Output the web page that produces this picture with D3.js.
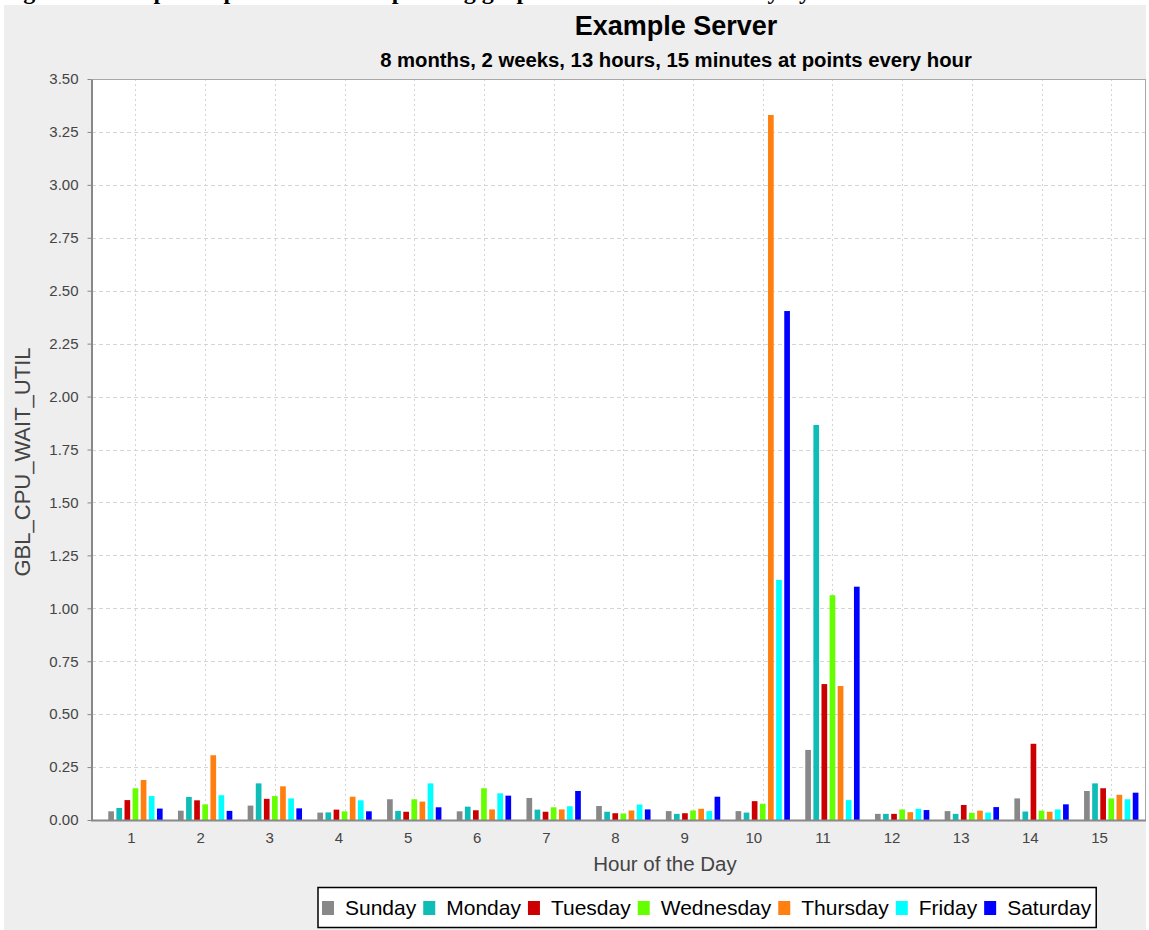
<!DOCTYPE html>
<html>
<head>
<meta charset="utf-8">
<script src="https://cdn.jsdelivr.net/npm/d3@7"></script>
<style>
  html, body { margin: 0; padding: 0; background: #ffffff; }
  svg { display: block; font-family: "Liberation Sans", Arial, sans-serif; }
</style>
</head>
<body>
<div id="chart"></div>
<script>
// Data ////////////////////////////////////////////////////////
const hours = ['1', '2', '3', '4', '5', '6', '7', '8', '9', '10', '11', '12', '13', '14', '15'];
const days = ['Sunday', 'Monday', 'Tuesday', 'Wednesday', 'Thursday', 'Friday', 'Saturday'];
const dayColors = ['#888888', '#10bdb6', '#cc0000', '#66ff00', '#ff8010', '#00ffff', '#0000ff'];

const sunday    = [0.041, 0.044, 0.068, 0.035, 0.098, 0.041, 0.104, 0.066, 0.042, 0.042, 0.331, 0.029, 0.042, 0.102, 0.137];
const monday    = [0.057, 0.109, 0.173, 0.036, 0.043, 0.063, 0.049, 0.039, 0.029, 0.035, 1.866, 0.029, 0.029, 0.040, 0.173];
const tuesday   = [0.094, 0.093, 0.100, 0.049, 0.039, 0.046, 0.039, 0.032, 0.032, 0.089, 0.642, 0.029, 0.071, 0.360, 0.150];
const wednesday = [0.150, 0.074, 0.113, 0.041, 0.098, 0.150, 0.060, 0.031, 0.045, 0.077, 1.062, 0.050, 0.034, 0.044, 0.102];
const thursday  = [0.189, 0.306, 0.159, 0.110, 0.087, 0.050, 0.050, 0.045, 0.053, 3.330, 0.633, 0.037, 0.044, 0.039, 0.119];
const friday    = [0.113, 0.117, 0.102, 0.093, 0.173, 0.126, 0.065, 0.073, 0.042, 1.134, 0.094, 0.053, 0.035, 0.050, 0.098];
const saturday  = [0.054, 0.043, 0.055, 0.041, 0.060, 0.115, 0.137, 0.050, 0.110, 2.404, 1.102, 0.047, 0.061, 0.074, 0.129];

const yTicks = [0, 0.25, 0.5, 0.75, 1, 1.25, 1.5, 1.75, 2, 2.25, 2.5, 2.75, 3, 3.25, 3.5];

const title = 'Example Server';
const subtitle = '8 months, 2 weeks, 13 hours, 15 minutes at points every hour';
const xTitle = 'Hour of the Day';
const yTitle = 'GBL_CPU_WAIT_UTIL';

// Layout ///////////////////////////////////////////////////////////////////////
const width = 1149, height = 930;
const plot = { left: 92, right: 1146, top: 79, bottom: 820 };

const series = [sunday, monday, tuesday, wednesday, thursday, friday, saturday];
const rows = [];
hours.forEach((h, i) => days.forEach((d, j) => rows.push({ hour: h, day: d, value: series[j][i] })));

const svg = d3.select('#chart').append('svg')
  .attr('width', width)
  .attr('height', height)
  .attr('viewBox', [0, 0, width, height]);

// cut-off caption line of the page above the chart
svg.append('text')
  .attr('x', 2).attr('y', -1)
  .attr('font-family', '"Liberation Serif", serif')
  .attr('font-weight', 'bold')
  .attr('font-size', 24)
  .attr('fill', '#000')
  .text('Figure 4 Example output of the corresponding graph for the hour of the day by');

svg.append('rect')
  .attr('x', 4).attr('y', 5)
  .attr('width', 1142).attr('height', height - 5)
  .attr('fill', '#eeeeee');

// Scales /////////////////////////////////////////////////////////////////////
const x0 = d3.scaleBand().domain(hours).range([100.6, 1146.1]).paddingInner(0.22).paddingOuter(0.11);
const x1 = d3.scaleBand().domain(days).range([0, x0.bandwidth()]).paddingInner(0.3);
const xLabel = d3.scalePoint().domain(hours).range([131, 1099]);
const y = d3.scaleLinear().domain([0, 3.5]).range([plot.bottom, plot.top]);
const color = d3.scaleOrdinal().domain(days).range(dayColors);

svg.append('rect')
  .attr('x', plot.left).attr('y', plot.top)
  .attr('width', plot.right - plot.left).attr('height', plot.bottom - plot.top)
  .attr('fill', '#ffffff');

// Gridlines ////////////////////////////////////////////////////////////////////
const grid = svg.append('g').attr('id', 'grid').attr('stroke', '#d4d4d4').attr('stroke-width', 1);

grid.selectAll('line.h')
  .data(yTicks.slice(1))
  .join('line')
  .attr('class', 'h')
  .attr('x1', plot.left).attr('x2', plot.right)
  .attr('y1', d => Math.round(y(d)) + 0.5).attr('y2', d => Math.round(y(d)) + 0.5)
  .attr('stroke-dasharray', '4,3');

grid.selectAll('line.v')
  .data(hours)
  .join('line')
  .attr('class', 'v')
  .attr('x1', d => Math.round(x0(d) + x0.bandwidth() / 2) + 0.5)
  .attr('x2', d => Math.round(x0(d) + x0.bandwidth() / 2) + 0.5)
  .attr('y1', plot.top).attr('y2', plot.bottom)
  .attr('stroke-dasharray', '2,3');

// Bars ///////////////////////////////////////////////////////////////////////
svg.append('g').attr('id', 'bars')
  .selectAll('rect')
  .data(rows)
  .join('rect')
  .attr('x', d => x0(d.hour) + x1(d.day))
  .attr('y', d => y(d.value))
  .attr('width', x1.bandwidth())
  .attr('height', d => y(0) - y(d.value))
  .attr('fill', d => color(d.day));

// Plot outline and axes //////////////////////////////////////////////////////
svg.append('rect')
  .attr('x', plot.left + 0.5).attr('y', plot.top + 0.5)
  .attr('width', plot.right - plot.left - 1).attr('height', plot.bottom - plot.top)
  .attr('fill', 'none')
  .attr('stroke', '#a8a8a8');

const yAxis = svg.append('g')
  .attr('transform', `translate(${plot.left - 0.5},0)`)
  .call(d3.axisLeft(y).tickValues(yTicks).tickFormat(d3.format('.2f')).tickSizeInner(4).tickSizeOuter(0).tickPadding(9));
yAxis.select('.domain').attr('stroke', '#888888').attr('stroke-width', 2);
yAxis.selectAll('.tick line').attr('stroke', '#888888');
yAxis.selectAll('.tick text').attr('fill', '#444444').attr('font-size', 15).attr('font-family', '"Liberation Sans", Arial, sans-serif');

const xAxis = svg.append('g')
  .attr('transform', `translate(0,${plot.bottom})`)
  .call(d3.axisBottom(xLabel).tickSize(0).tickPadding(12));
xAxis.select('.domain').remove();
xAxis.selectAll('.tick text').attr('fill', '#444444').attr('font-size', 15).attr('font-family', '"Liberation Sans", Arial, sans-serif');

svg.append('line')
  .attr('x1', plot.left - 1).attr('x2', plot.right)
  .attr('y1', plot.bottom + 0.5).attr('y2', plot.bottom + 0.5)
  .attr('stroke', '#888888').attr('stroke-width', 2);

// Titles /////////////////////////////////////////////////////////////////////
svg.append('text')
  .attr('x', 676).attr('y', 35)
  .attr('text-anchor', 'middle')
  .attr('font-weight', 'bold').attr('font-size', 27)
  .attr('fill', '#000')
  .text(title);

svg.append('text')
  .attr('x', 676).attr('y', 67)
  .attr('text-anchor', 'middle')
  .attr('font-weight', 'bold').attr('font-size', 20.3)
  .attr('fill', '#000')
  .text(subtitle);

svg.append('text')
  .attr('x', 665).attr('y', 871)
  .attr('text-anchor', 'middle')
  .attr('font-size', 20.5)
  .attr('fill', '#444444')
  .text(xTitle);

svg.append('text')
  .attr('transform', `translate(30,462) rotate(-90)`)
  .attr('text-anchor', 'middle')
  .attr('font-size', 22)
  .attr('fill', '#444444')
  .text(yTitle);

// Legend /////////////////////////////////////////////////////////////////////
const legend = svg.append('g').attr('id', 'legend');
const legendBox = legend.append('rect')
  .attr('fill', '#ffffff').attr('stroke', '#000000').attr('stroke-width', 1.5);

let cursor = 0;
const items = legend.selectAll('g.item')
  .data(days)
  .join('g')
  .attr('class', 'item');

items.each(function(d) {
  const g = d3.select(this);
  g.append('rect')
    .attr('x', cursor).attr('y', -7)
    .attr('width', 12).attr('height', 14)
    .attr('fill', color(d));
  const t = g.append('text')
    .attr('x', cursor + 23).attr('y', 7)
    .attr('font-size', 21)
    .attr('fill', '#000')
    .text(d);
  cursor += 23 + t.node().getComputedTextLength() + 7;
});

const legendWidth = cursor - 7;
const legendLeft = 322, legendY = 908;
items.attr('transform', `translate(${legendLeft},${legendY})`);
legendBox
  .attr('x', legendLeft - 4)
  .attr('y', 887.5)
  .attr('width', legendWidth + 9)
  .attr('height', 40);
</script>
</body>
</html>
